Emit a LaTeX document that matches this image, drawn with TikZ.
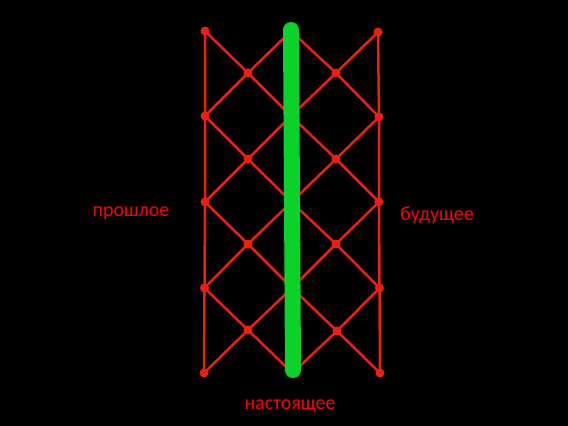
\documentclass[tikz,border=0pt]{standalone}
\usepackage{fontspec}
\newfontfamily\lblfont{Carlito}
\definecolor{lat}{RGB}{240,30,15}
\definecolor{grn}{RGB}{10,210,40}
\definecolor{txt}{RGB}{255,0,0}
\begin{document}
\begin{tikzpicture}[x=1pt,y=-1pt,
  edge/.style={draw=lat,line width=2.5pt},
  dot/.style={circle,fill=lat,inner sep=0pt,minimum size=9pt},
  lbl/.style={text=txt,font=\lblfont\fontsize{20}{24}\selectfont,inner sep=0pt}]
\fill[black] (0,0) rectangle (568,426);
\useasboundingbox (0,0) rectangle (568,426);
% outer left
\coordinate (L0) at (205,31);
\coordinate (L1) at (205,116);
\coordinate (L2) at (205,202);
\coordinate (L3) at (204.5,288);
\coordinate (L4) at (204,373);
% outer right
\coordinate (R0) at (378,32);
\coordinate (R1) at (379,117);
\coordinate (R2) at (379,202);
\coordinate (R3) at (379.5,288);
\coordinate (R4) at (380,373);
% inner left
\coordinate (A0) at (248,73);
\coordinate (A1) at (248,159);
\coordinate (A2) at (248,244);
\coordinate (A3) at (248,330);
% inner right
\coordinate (B0) at (336,73);
\coordinate (B1) at (336,159);
\coordinate (B2) at (336,244);
\coordinate (B3) at (337,331);
% centre (under the green bar)
\coordinate (C0) at (291,31);
\coordinate (C1) at (291,116);
\coordinate (C2) at (291.5,202);
\coordinate (C3) at (292,288);
\coordinate (C4) at (292.5,373);
% verticals
\draw[edge] (L0) -- (L1) -- (L2) -- (L3) -- (L4);
\draw[edge] (R0) -- (R1) -- (R2) -- (R3) -- (R4);
% diagonals
\foreach \k [evaluate=\k as \n using int(\k+1)] in {0,1,2,3}{
  \draw[edge] (L\k) -- (A\k) -- (C\n);
  \draw[edge] (L\n) -- (A\k) -- (C\k);
  \draw[edge] (C\k) -- (B\k) -- (R\n);
  \draw[edge] (C\n) -- (B\k) -- (R\k);
}
% dots
\foreach \p in {L0,L1,L2,L3,L4,R0,R1,R2,R3,R4,A0,A1,A2,A3,B0,B1,B2,B3}{
  \node[dot] at (\p) {};
}
% green bar
\coordinate (Gt) at (291,30);
\coordinate (Gb) at (293,370);
\draw[grn,line width=16pt,line cap=round] (Gt) -- (Gb);
% labels
\node[lbl] (past) at (131,213.5) {прошлое};
\node[lbl] (future) at (437,215.5) {будущее};
\node[lbl] (present) at (290,406.5) {настоящее};
\end{tikzpicture}
\end{document}
